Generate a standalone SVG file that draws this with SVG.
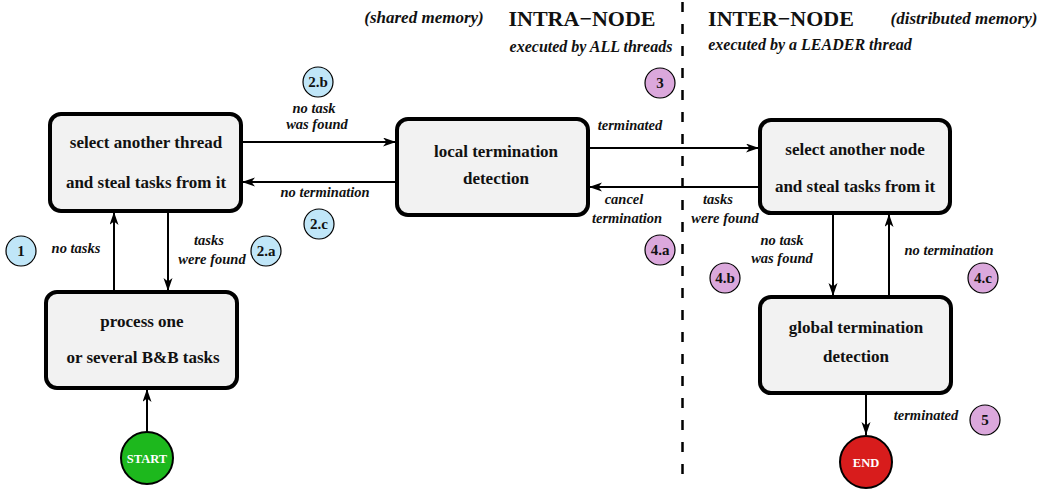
<svg xmlns="http://www.w3.org/2000/svg" width="1046" height="491" viewBox="0 0 1046 491">
<style>
.box{fill:#f2f2f2;stroke:#000;stroke-width:4}
.bt{font-family:"Liberation Serif","Times New Roman",serif;font-weight:bold;font-size:17px;fill:#111;text-anchor:middle}
.lb{font-family:"Liberation Serif","Times New Roman",serif;font-weight:bold;font-style:italic;font-size:14.5px;fill:#111;text-anchor:middle}
.hd{font-family:"Liberation Serif","Times New Roman",serif;font-weight:bold;font-size:22px;fill:#111;text-anchor:middle}
.hi{font-family:"Liberation Serif","Times New Roman",serif;font-weight:bold;font-style:italic;font-size:16px;fill:#111;text-anchor:middle}
.hm{font-family:"Liberation Serif","Times New Roman",serif;font-weight:bold;font-style:italic;font-size:17px;fill:#111;text-anchor:middle}
.cb{fill:#c0e6f8;stroke:#000;stroke-width:1.2}
.cp{fill:#dba8dc;stroke:#000;stroke-width:1.2}
.ct{font-family:"Liberation Serif","Times New Roman",serif;font-weight:bold;font-size:15px;fill:#111;text-anchor:middle}
.st{font-family:"Liberation Serif","Times New Roman",serif;font-weight:bold;font-size:12.5px;fill:#fff;text-anchor:middle}
.ar{fill:none;stroke:#000;stroke-width:2;marker-end:url(#ah)}
</style>
<defs>
<marker id="ah" markerUnits="userSpaceOnUse" markerWidth="14" markerHeight="10" refX="13" refY="4.5" orient="auto">
<path d="M0,0 L13,4.5 L0,9 L3.5,4.5 z" fill="#000"/>
</marker>
</defs>

<g id="headers">
<text class="hm" x="424" y="23">(shared memory)</text>
<text class="hd" x="582" y="26">INTRA−NODE</text>
<text class="hi" x="591" y="52">executed by ALL threads</text>
<text class="hd" x="781" y="26">INTER−NODE</text>
<text class="hm" x="964" y="24">(distributed memory)</text>
<text class="hi" x="810" y="50">executed by a LEADER thread</text>
<line x1="682.5" y1="2" x2="682.5" y2="478" stroke="#000" stroke-width="2.5" stroke-dasharray="10 12"/>
</g>

<g id="connectors">
<line class="ar" x1="114" y1="292" x2="114" y2="212"/>
<line class="ar" x1="168" y1="211" x2="168" y2="291"/>
<line class="ar" x1="241" y1="142" x2="396" y2="142"/>
<line class="ar" x1="397" y1="182" x2="242" y2="182"/>
<line class="ar" x1="588" y1="148" x2="759" y2="148"/>
<line class="ar" x1="760" y1="187" x2="589" y2="187"/>
<line class="ar" x1="833" y1="213" x2="833" y2="296"/>
<line class="ar" x1="889" y1="297" x2="889" y2="214"/>
<line class="ar" x1="866" y1="393" x2="866" y2="435"/>
<line class="ar" x1="147" y1="432" x2="147" y2="389"/>
<text class="lb" x="76" y="253">no tasks</text>
<text class="lb" x="209" y="245">tasks</text>
<text class="lb" x="212" y="264">were found</text>
<text class="lb" x="314" y="113">no task</text>
<text class="lb" x="317" y="129">was found</text>
<text class="lb" x="325" y="197">no termination</text>
<text class="lb" x="630" y="130">terminated</text>
<text class="lb" x="624" y="204">cancel</text>
<text class="lb" x="627" y="223">termination</text>
<text class="lb" x="718" y="204">tasks</text>
<text class="lb" x="725" y="223">were found</text>
<text class="lb" x="782" y="245">no task</text>
<text class="lb" x="782" y="263">was found</text>
<text class="lb" x="949" y="255">no termination</text>
<text class="lb" x="926" y="420">terminated</text>
</g>

<g id="select-thread">
<rect class="box" x="50" y="114" width="191" height="97" rx="11"/>
<text class="bt" x="146" y="148">select another thread</text>
<text class="bt" x="146" y="188">and steal tasks from it</text>
</g>
<g id="process">
<rect class="box" x="46" y="292" width="191" height="96" rx="11"/>
<text class="bt" x="142" y="327">process one</text>
<text class="bt" x="143" y="363">or several B&amp;B tasks</text>
</g>
<g id="local-termination">
<rect class="box" x="397" y="119" width="191" height="96" rx="11"/>
<text class="bt" x="496" y="157">local termination</text>
<text class="bt" x="496" y="184">detection</text>
</g>
<g id="select-node">
<rect class="box" x="760" y="120" width="190" height="93" rx="11"/>
<text class="bt" x="855" y="155">select another node</text>
<text class="bt" x="855" y="192">and steal tasks from it</text>
</g>
<g id="global-termination">
<rect class="box" x="760" y="297" width="191" height="96" rx="11"/>
<text class="bt" x="856" y="333">global termination</text>
<text class="bt" x="856" y="362">detection</text>
</g>
<g id="start">
<circle cx="147" cy="458" r="26" fill="#1db81d" stroke="#000" stroke-width="2"/>
<text class="st" x="147" y="462.5">START</text>
</g>
<g id="end">
<circle cx="866" cy="462" r="26" fill="#d81c1c" stroke="#000" stroke-width="2"/>
<text class="st" x="866" y="466.5">END</text>
</g>

<g id="step-1"><circle class="cb" cx="21" cy="251" r="15"/><text class="ct" x="21" y="256">1</text></g>
<g id="step-2a"><circle class="cb" cx="266" cy="251" r="15"/><text class="ct" x="266" y="256">2.a</text></g>
<g id="step-2b"><circle class="cb" cx="318" cy="82" r="15"/><text class="ct" x="318" y="87">2.b</text></g>
<g id="step-2c"><circle class="cb" cx="319" cy="224" r="15"/><text class="ct" x="319" y="229">2.c</text></g>
<g id="step-3"><circle class="cp" cx="660" cy="83" r="15"/><text class="ct" x="660" y="88">3</text></g>
<g id="step-4a"><circle class="cp" cx="660" cy="250" r="15"/><text class="ct" x="660" y="255">4.a</text></g>
<g id="step-4b"><circle class="cp" cx="725" cy="278" r="15"/><text class="ct" x="725" y="283">4.b</text></g>
<g id="step-4c"><circle class="cp" cx="983" cy="278" r="15"/><text class="ct" x="983" y="283">4.c</text></g>
<g id="step-5"><circle class="cp" cx="985" cy="420" r="15"/><text class="ct" x="985" y="425">5</text></g>
</svg>
